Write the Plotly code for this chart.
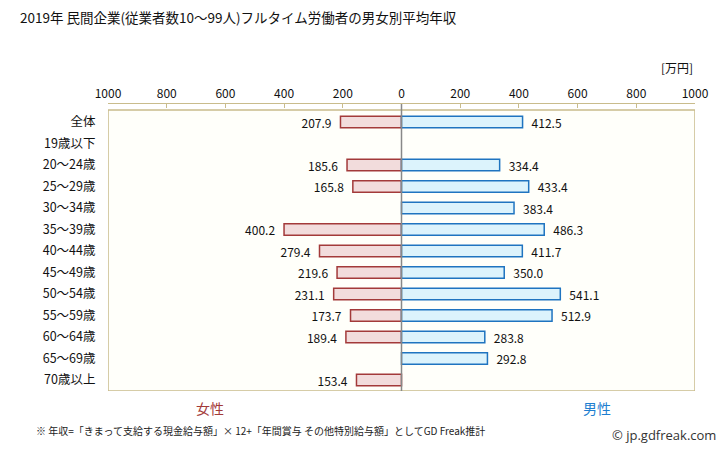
import plotly.graph_objects as go

categories = ["全体", "19歳以下", "20～24歳", "25～29歳", "30～34歳", "35～39歳", "40～44歳",
              "45～49歳", "50～54歳", "55～59歳", "60～64歳", "65～69歳", "70歳以上"]
female = [207.9, None, 185.6, 165.8, None, 400.2, 279.4, 219.6, 231.1, 173.7, 189.4, None, 153.4]
male = [412.5, None, 334.4, 433.4, 383.4, 486.3, 411.7, 350.0, 541.1, 512.9, 283.8, 292.8, None]
tick_vals = [-1000, -800, -600, -400, -200, 0, 200, 400, 600, 800, 1000]
tick_text = ["1000", "800", "600", "400", "200", "0", "200", "400", "600", "800", "1000"]

FONT = "Noto Sans CJK JP"
idx = list(range(len(categories)))

PT, PB, PL, PR = 104, 391, 108, 695
PH, PW = PB - PT, PR - PL


def py(px):
    return (PB - px) / PH


def pxx(px):
    return (px - PL) / PW


fig = go.Figure()
fig.add_trace(go.Bar(
    y=idx, x=[(-v if v is not None else None) for v in female], orientation="h",
    width=0.54,
    marker=dict(color="#f2dcdc", line=dict(color="#a33a3a", width=1.5)),
    text=[(f"{v:.1f}\u2002" if v is not None else "") for v in female],
    textposition="outside", cliponaxis=False, constraintext="none",
    textfont=dict(family=FONT, size=12, color="#111111"),
    hoverinfo="skip", showlegend=False,
))
fig.add_trace(go.Bar(
    y=idx, x=male, orientation="h",
    width=0.54,
    marker=dict(color="#dcf3fc", line=dict(color="#1f74c0", width=1.5)),
    text=[(f"\u2002{v:.1f}" if v is not None else "") for v in male],
    textposition="outside", cliponaxis=False, constraintext="none",
    textfont=dict(family=FONT, size=12, color="#111111"),
    hoverinfo="skip", showlegend=False,
))

row_px = 21.5
first_row = 122
top_idx = -(first_row - PT) / row_px
bot_idx = 12 + (PB - (first_row + 12 * row_px)) / row_px
frame_top = -(first_row - 110) / row_px

fig.update_layout(
    width=728, height=451,
    margin=dict(l=PL, r=728 - PR, t=PT, b=451 - PB),
    paper_bgcolor="white", plot_bgcolor="white",
    barmode="overlay",
    font=dict(family=FONT, size=12, color="#111111"),
    xaxis=dict(range=[-1000, 1000], side="top", tickvals=tick_vals, ticktext=tick_text,
               showgrid=False, zeroline=False, showline=True, linecolor="#c9bc8c", linewidth=1,
               ticks="inside", ticklen=4, tickcolor="#c9bc8c",
               tickfont=dict(family=FONT, size=12, color="#111111"), fixedrange=True),
    yaxis=dict(range=[bot_idx, top_idx], tickvals=idx, ticktext=categories,
               showgrid=False, zeroline=False, showline=False,
               ticks="outside", ticklen=9, tickcolor="rgba(0,0,0,0)",
               tickfont=dict(family=FONT, size=12.5, color="#111111"), fixedrange=True),
    shapes=[
        dict(type="rect", xref="x", yref="y", x0=-1000, x1=1000, y0=frame_top, y1=bot_idx,
             fillcolor="#fffffa", line=dict(color="#c9bc8c", width=1.5), layer="below"),
        dict(type="line", xref="x", yref="y", x0=0, x1=0, y0=top_idx, y1=bot_idx,
             line=dict(color="#888888", width=1.5), layer="above"),
    ],
    annotations=[
        dict(text="2019年 民間企業(従業者数10～99人)フルタイム労働者の男女別平均年収", x=pxx(18), y=py(17),
             xref="paper", yref="paper", showarrow=False, xanchor="left", yanchor="middle",
             font=dict(family=FONT, size=13.5, color="#111111")),
        dict(text="[万円]", x=1, y=py(68), xref="paper", yref="paper", showarrow=False,
             xanchor="right", yanchor="middle", font=dict(family=FONT, size=12, color="#111111")),
        dict(text="女性", x=pxx(210), y=py(408), xref="paper", yref="paper", showarrow=False,
             xanchor="center", yanchor="middle", font=dict(family=FONT, size=14, color="#a33a3a")),
        dict(text="男性", x=pxx(597), y=py(408), xref="paper", yref="paper", showarrow=False,
             xanchor="center", yanchor="middle", font=dict(family=FONT, size=14, color="#1f7fd0")),
        dict(text="※ 年収=「きまって支給する現金給与額」× 12+「年間賞与 その他特別給与額」としてGD Freak推計",
             x=pxx(34), y=py(430), xref="paper", yref="paper", showarrow=False,
             xanchor="left", yanchor="middle", font=dict(family=FONT, size=10, color="#222222")),
        dict(text="© jp.gdfreak.com", x=pxx(718), y=py(435), xref="paper",
             yref="paper", showarrow=False, xanchor="right", yanchor="middle",
             font=dict(family="Open Sans", size=13, color="#333333")),
    ],
)

fig.write_html("out.html")
